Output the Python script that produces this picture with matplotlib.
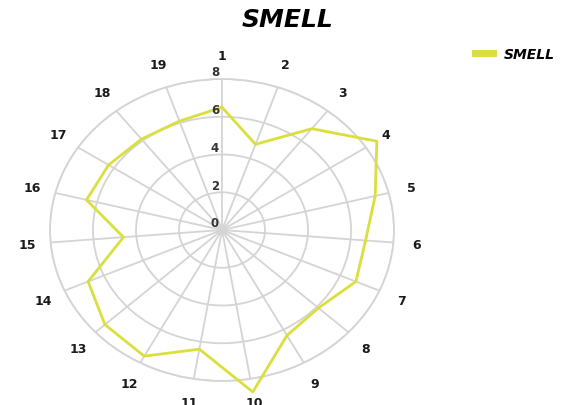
import numpy as np
import matplotlib
matplotlib.use("Agg")
import matplotlib.pyplot as plt
from matplotlib import transforms

categories = [str(i) for i in range(1, 20)]
smell = [6.5, 4.8, 6.8, 8.6, 7.35, 6.7, 6.8, 6.1, 6.35, 8.7,
         6.4, 7.6, 7.4, 6.8, 4.6, 6.5, 6.3, 6.1, 6.1]
r_ticks = [0, 2, 4, 6, 8]
r_labels = ["0", "2", "4", "6", "8"]
series_name = "SMELL"

LINE_COLOR = "#dadf3c"
GRID_COLOR = "#d4d4d4"
FONT = "DejaVu Sans"

fig = plt.figure(figsize=(5.67, 4.06), dpi=100)
ax = fig.add_axes([50 / 567, 1 - 382 / 406, 344 / 567, 302 / 406], projection="polar")
ax.set_aspect("auto")
ax.set_theta_zero_location("N")
ax.set_theta_direction(-1)

n = len(categories)
angles = np.arange(n) * 2 * np.pi / n
theta = np.concatenate([angles, angles[:1]])
vals = np.concatenate([smell, smell[:1]])
line, = ax.plot(theta, vals, color=LINE_COLOR, lw=2.0, label=series_name, zorder=5)
line.set_clip_on(False)

ax.set_ylim(0, 8)
ax.set_yticks(r_ticks)
ax.set_yticklabels([])
ax.set_thetagrids(np.degrees(angles), categories)
ax.tick_params(axis="x", pad=6.5, labelsize=9, colors="#1a1a1a")
for t in ax.get_xticklabels():
    t.set_fontweight("bold")
    t.set_fontfamily(FONT)
ax.grid(True, color=GRID_COLOR, lw=1.3)
ax.spines["polar"].set_color(GRID_COLOR)
ax.spines["polar"].set_linewidth(1.3)
ax.set_facecolor("white")

off = transforms.offset_copy(ax.transData, fig=fig, x=-7, y=7, units="dots")
for r, lab in zip(r_ticks, r_labels):
    ax.text(0, r, lab, transform=off, ha="center", va="center",
            fontsize=8.5, fontweight="bold", color="#333333", family=FONT, zorder=6)

fig.text(288 / 567, 1 - 20 / 406, series_name, ha="center", va="center",
         fontsize=18, fontweight="bold", fontstyle="italic", family=FONT, color="black")

leg = fig.legend(handles=[line], loc="center left", bbox_to_anchor=(468 / 567, 1 - 55 / 406),
                 frameon=False, borderpad=0, handlelength=1.3, handletextpad=0.8,
                 prop={"family": FONT, "weight": "bold", "style": "italic", "size": 10})
leg.get_lines()[0].set_linewidth(5)

fig.savefig("out.png", dpi=100)
